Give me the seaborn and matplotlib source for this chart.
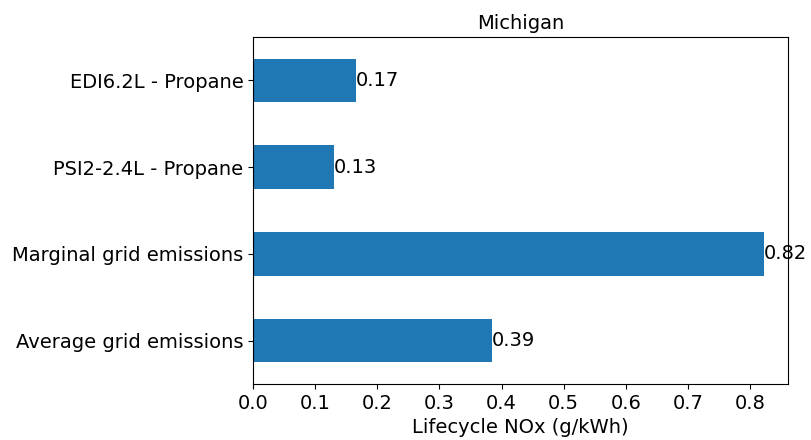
import matplotlib
matplotlib.use("Agg")
import matplotlib.pyplot as plt
import seaborn as sns
import pandas as pd

# Data ..........................................................................
sources = ["EDI6.2L - Propane", "PSI2-2.4L - Propane",
           "Marginal grid emissions", "Average grid emissions"]
nox = [0.166, 0.130, 0.822, 0.385]

df = pd.DataFrame({"source": sources, "nox": nox})

# Plot ..........................................................................
fig = plt.figure(figsize=(8.11, 4.4), dpi=100)
ax = fig.add_axes([0.312, 0.127, 0.66, 0.789])
sns.barplot(data=df, x="nox", y="source", orient="h", width=0.5,
            color="#1f77b4", saturation=1, ax=ax)
ax.bar_label(ax.containers[0], fmt="%.2f", fontsize=14)
ax.set_xlim(0, max(nox) * 1.048)
ax.set_xticks([0.0, 0.1, 0.2, 0.3, 0.4, 0.5, 0.6, 0.7, 0.8])
ax.tick_params(labelsize=14)
ax.set_xlabel("Lifecycle NOx (g/kWh)", fontsize=14)
ax.set_ylabel("")
ax.set_title("Michigan", fontsize=14)
fig.savefig("out.png", dpi=100)
